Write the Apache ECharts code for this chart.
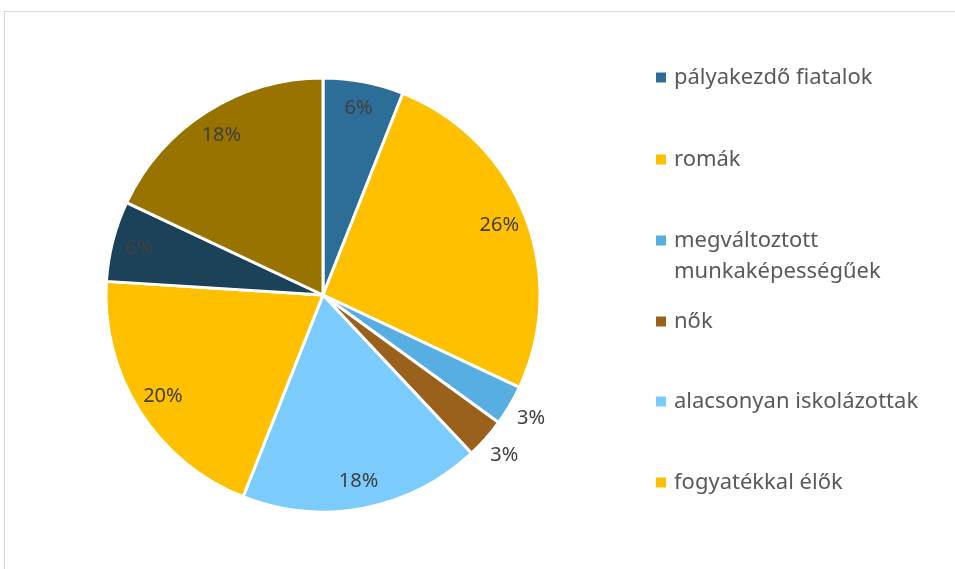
<!DOCTYPE html>
<html>
<head>
<meta charset="utf-8">
<script src="https://cdn.jsdelivr.net/npm/echarts@6/dist/echarts.min.js"></script>
<style>
  html, body { margin: 0; padding: 0; background: #fff; }
  #frame {
    position: absolute; left: 4px; top: 11px; width: 960px; height: 570px;
    border-top: 1px solid #d9d9d9; border-left: 1px solid #d9d9d9;
  }
  #chart { position: absolute; left: 0; top: 0; width: 955px; height: 569px; }
</style>
</head>
<body>
<div id="frame"></div>
<div id="chart"></div>
<script>
// slices clockwise from 12 o'clock; last two are not in the (cut off) legend
const categories = [
  'pályakezdő fiatalok',
  'romák',
  'megváltoztott munkaképességűek',
  'nők',
  'alacsonyan iskolázottak',
  'fogyatékkal élők',
  'tartós munkanélküliek',
  '50 év felettiek'
];
const values = [6, 26, 3, 3, 18, 20, 6, 18];
const colors = ['#2c6e98', '#ffc000', '#56aee2', '#9a611c', '#7ccbfd', '#ffc000', '#1c4259', '#997300'];
const legendNames = categories.slice(0, 6);
const legendTops = [57, 139, 220, 301, 381, 462];

const chart = echarts.init(document.getElementById('chart'));
const R = 217, C = [323, 295];
const FONT = 'Noto Sans';

const pieData = categories.map((n, i) => ({ name: n, value: values[i], itemStyle: { color: colors[i] } }));
const small = v => v < 5;

const legends = legendNames.map((n, i) => {
  const twoLine = n.indexOf(' munka') > 0;
  return {
    data: [n],
    left: 651,
    top: legendTops[i],
    orient: 'vertical',
    itemWidth: 10,
    itemHeight: twoLine ? 41 : 10,
    // tall icon with the square at its top so it sits on the first line
    icon: twoLine ? 'path://M0,0L10,0L10,10L0,10Z M0,41L0,41Z' : 'rect',
    itemStyle: { borderWidth: 0 },
    selectedMode: false,
    formatter: name => name.replace(' munka', '\nmunka'),
    textStyle: { fontFamily: FONT, fontSize: 22, color: '#595959', lineHeight: 31, padding: [0, 0, 0, 3] }
  };
});

chart.setOption({
  animation: false,
  legend: legends,
  series: [
    {
      type: 'pie', center: C, radius: R, startAngle: 90,
      itemStyle: { borderColor: '#fff', borderWidth: 3 },
      label: { show: false }, labelLine: { show: false },
      emphasis: { disabled: true },
      data: pieData
    },
    {
      // label carrier: inner labels at ~0.86 R
      type: 'pie', center: C, radius: [R * 0.72, R], startAngle: 90, silent: true,
      itemStyle: { color: 'transparent' },
      label: { position: 'inside', formatter: '{d}%', fontFamily: FONT, fontSize: 20, color: '#404040' },
      labelLine: { show: false },
      data: categories.map((n, i) => ({ name: n, value: values[i], label: { show: !small(values[i]) } }))
    },
    {
      // label carrier: small slices labelled just outside the rim
      type: 'pie', center: C, radius: [R, R * 1.2], startAngle: 90, silent: true,
      itemStyle: { color: 'transparent' },
      label: { position: 'inside', formatter: '{d}%', fontFamily: FONT, fontSize: 20, color: '#404040' },
      labelLine: { show: false },
      data: categories.map((n, i) => ({ name: n, value: values[i], label: { show: small(values[i]) } }))
    }
  ]
});
</script>
</body>
</html>
